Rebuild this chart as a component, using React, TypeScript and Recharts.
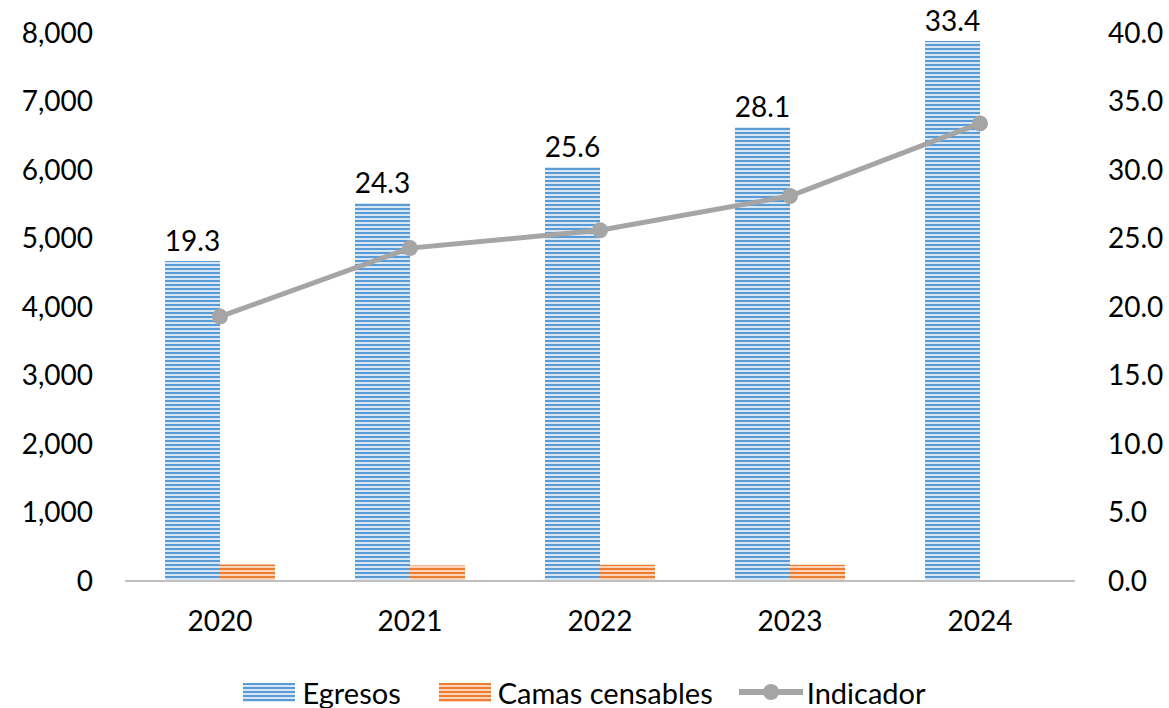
import { Bar, ComposedChart, LabelList, Legend, Line, XAxis, YAxis } from "recharts";

const years = ["2020", "2021", "2022", "2023", "2024"];
const egresos = [4672, 5518, 6044, 6628, 7883];
const camas = [242, 225, 236, 236, 0];
const indicador = [19.3, 24.3, 25.6, 28.1, 33.4];

const leftTicks = [0, 1000, 2000, 3000, 4000, 5000, 6000, 7000, 8000];
const rightTicks = [0, 5, 10, 15, 20, 25, 30, 35, 40];

const data = years.map((year, i) => ({
  year,
  egresos: egresos[i],
  camas: camas[i],
  indicador: indicador[i],
}));

const FONT = "Lato, 'Open Sans', sans-serif";
const BLUE = "#5b9bd5";
const ORANGE = "#ed7d31";
const GREY = "#a5a5a5";

function Swatch({ id }: { id: string }) {
  return (
    <svg width={52} height={19} style={{ marginRight: 7 }}>
      <rect width={52} height={19} fill={`url(#${id})`} />
    </svg>
  );
}

function LegendContent() {
  const item = { display: "flex", alignItems: "center", marginRight: 38 };
  return (
    <div
      style={{
        display: "flex",
        justifyContent: "center",
        alignItems: "center",
        fontFamily: FONT,
        fontSize: 29,
        color: "#000",
        height: 32,
      }}
    >
      <div style={item}>
        <Swatch id="blueStripes" />
        <span>Egresos</span>
      </div>
      <div style={{ ...item, marginRight: 26 }}>
        <Swatch id="orangeStripes" />
        <span>Camas censables</span>
      </div>
      <div style={{ ...item, marginRight: 0 }}>
        <svg width={64} height={20} style={{ marginRight: 4 }}>
          <line x1={0} y1={10} x2={64} y2={10} stroke={GREY} strokeWidth={6} />
          <circle cx={32} cy={10} r={8} fill={GREY} />
        </svg>
        <span>Indicador</span>
      </div>
    </div>
  );
}

export default function App() {
  const tick = { fill: "#000", fontSize: 28, fontFamily: FONT };
  return (
    <div style={{ position: "absolute", left: 0, top: 0, background: "#fff" }}>
      <ComposedChart
        width={1169}
        height={708}
        data={data}
        margin={{ top: 33, right: 0, bottom: 0, left: 0 }}
        barCategoryGap={40}
        barGap={0}
      >
        <defs>
          <pattern id="blueStripes" width={4} height={4} patternUnits="userSpaceOnUse">
            <rect width={4} height={4} fill="#d6e6f5" />
            <rect width={4} height={2} fill={BLUE} />
          </pattern>
          <pattern id="orangeStripes" width={4} height={4} patternUnits="userSpaceOnUse">
            <rect width={4} height={4} fill="#fad3b8" />
            <rect width={4} height={2} fill={ORANGE} />
          </pattern>
        </defs>
        <XAxis
          dataKey="year"
          tick={tick}
          tickLine={false}
          tickSize={0}
          axisLine={{ stroke: "#bfbfbf", strokeWidth: 2 }}
          tickMargin={30}
          height={95}
        />
        <YAxis
          yAxisId="left"
          domain={[0, 8000]}
          ticks={leftTicks}
          tickFormatter={(v: number) => v.toLocaleString("en-US")}
          tick={tick}
          axisLine={false}
          tickLine={false}
          tickSize={0}
          tickMargin={32}
          width={125}
        />
        <YAxis
          yAxisId="right"
          orientation="right"
          domain={[0, 40]}
          ticks={rightTicks}
          tickFormatter={(v: number) => v.toFixed(1)}
          tick={tick}
          axisLine={false}
          tickLine={false}
          tickSize={0}
          tickMargin={33}
          width={94}
        />
        <Legend
          verticalAlign="bottom"
          height={32}
          wrapperStyle={{ bottom: 0 }}
          content={<LegendContent />}
        />
        <Bar
          yAxisId="left"
          dataKey="egresos"
          name="Egresos"
          fill="url(#blueStripes)"
          barSize={55}
          isAnimationActive={false}
        >
          <LabelList
            dataKey="indicador"
            position="top"
            offset={10}
            formatter={(v: number) => v.toFixed(1)}
            style={{ fill: "#000", fontSize: 28, fontFamily: FONT }}
          />
        </Bar>
        <Bar
          yAxisId="left"
          dataKey="camas"
          name="Camas censables"
          fill="url(#orangeStripes)"
          barSize={55}
          isAnimationActive={false}
        />
        <Line
          yAxisId="right"
          dataKey="indicador"
          name="Indicador"
          stroke={GREY}
          strokeWidth={5}
          dot={{ r: 8, fill: GREY, stroke: GREY, strokeWidth: 0 }}
          isAnimationActive={false}
        />
      </ComposedChart>
    </div>
  );
}
